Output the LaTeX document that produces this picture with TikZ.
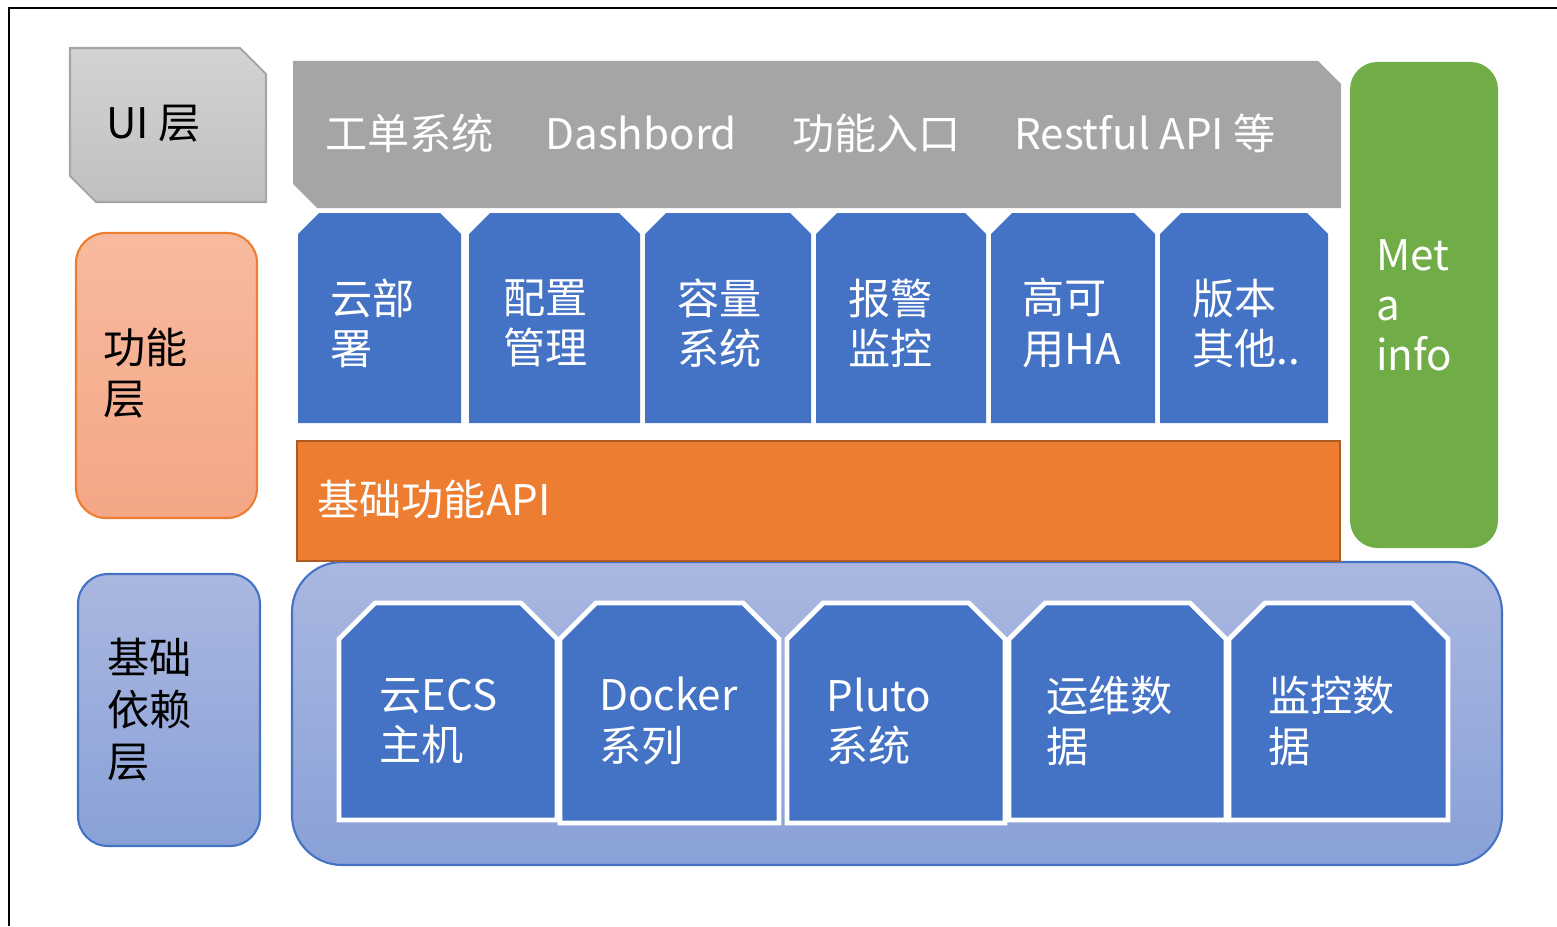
\documentclass[tikz,border=0pt]{standalone}
\usepackage{fontspec}
\setmainfont{Noto Sans CJK SC}
\usepackage{xcolor}
\usepackage{tikz}
\usetikzlibrary{positioning}
\definecolor{uigray}{RGB}{165,165,165}
\definecolor{uiedge}{RGB}{166,166,166}
\definecolor{uitop}{RGB}{211,211,211}
\definecolor{uibot}{RGB}{192,192,192}
\definecolor{funcblue}{RGB}{68,114,196}
\definecolor{apiorange}{RGB}{237,125,49}
\definecolor{apiedge}{RGB}{174,90,33}
\definecolor{metagreen}{RGB}{112,173,71}
\definecolor{peachtop}{RGB}{248,186,158}
\definecolor{peachbot}{RGB}{244,166,134}
\definecolor{basetop}{RGB}{170,183,224}
\definecolor{basebot}{RGB}{137,161,215}
\tikzset{
    layertxt/.style = {anchor=west, align=left, inner sep=0pt, text=black, font=\fontsize{24}{29}\selectfont},
    boxtxt/.style = {anchor=west, align=left, inner sep=0pt, text=white, font=\fontsize{24}{28.5}\selectfont},
    bartxt/.style = {anchor=base west, inner sep=0pt, text=white, font=\fontsize{24}{28.5}\selectfont},
}

\begin{document}
\begin{tikzpicture}[
	x=0.02cm, y=-0.02cm,
	line join=miter
]
\tikzset{
    uibox/.style = {draw=uiedge, line width=1.2pt, top color=uitop, bottom color=uibot},
    topbar/.style = {fill=uigray},
    funcbox/.style = {fill=funcblue},
    apibar/.style = {fill=apiorange, draw=apiedge, line width=1.2pt},
    metabox/.style = {fill=metagreen, rounded corners=0.55cm},
    funclayer/.style = {draw=apiorange, line width=1.2pt, top color=peachtop, bottom color=peachbot, rounded corners=0.6cm},
    baselayer/.style = {draw=funcblue, line width=1.2pt, top color=basetop, bottom color=basebot, rounded corners=0.6cm},
    container/.style = {draw=funcblue, line width=1.2pt, top color=basetop, bottom color=basebot, rounded corners=1cm},
    depbox/.style = {fill=funcblue, draw=white, line width=2.8pt},
}
\useasboundingbox (0,0) rectangle (1557,926);
\draw[line width=1.2pt] (9,926) -- (9,8) -- (1557,8);
%
% left column
\draw[uibox] (70,48) -- (240,48) -- (266,74) -- (266,202) -- (96,202) -- (70,176) -- cycle;
\node[layertxt] at (106,124) (ui) {UI 层};
\draw[funclayer] (76,233) rectangle (257,518);
\node[layertxt] at (103,373) (func) {功能\\层};
\draw[baselayer] (78,574) rectangle (260,846);
\node[layertxt, font=\fontsize{24}{29.6}\selectfont] at (107,710) (base) {基础\\依赖\\层};
%
% ui bar
\fill[topbar] (293,61) -- (1318,61) -- (1341,84) -- (1341,208) -- (317,208) -- (293,184) -- cycle;
\node[bartxt] at (325,149) (t1) {工单系统};
\node[bartxt] at (545,149) (t2) {Dashbord};
\node[bartxt] at (792,149) (t3) {功能入口};
\node[bartxt] at (1014,149) (t4) {Restful API 等};
%
% function boxes
\fill[funcbox] (298,423) -- (298,234) -- (319,213) -- (440,213) -- (461,234) -- (461,423) -- cycle;
\fill[funcbox] (469,423) -- (469,234) -- (490,213) -- (619,213) -- (640,234) -- (640,423) -- cycle;
\fill[funcbox] (645,423) -- (645,234) -- (666,213) -- (790,213) -- (811,234) -- (811,423) -- cycle;
\fill[funcbox] (816,423) -- (816,234) -- (837,213) -- (965,213) -- (986,234) -- (986,423) -- cycle;
\fill[funcbox] (991,423) -- (991,234) -- (1012,213) -- (1134,213) -- (1155,234) -- (1155,423) -- cycle;
\fill[funcbox] (1160,423) -- (1160,234) -- (1181,213) -- (1307,213) -- (1328,234) -- (1328,423) -- cycle;
\node[boxtxt] at (330,323) (f1) {云部\\署};
\node[boxtxt] at (503,323) (f2) {配置\\管理};
\node[boxtxt] at (677,323) (f3) {容量\\系统};
\node[boxtxt] at (848,323) (f4) {报警\\监控};
\node[boxtxt] at (1022,323) (f5) {高可\\用HA};
\node[boxtxt] at (1192,323) (f6) {版本\\其他..};
%
% meta info
\fill[metabox] (1350,62) rectangle (1498,548);
\node[boxtxt] at (1376,305) (meta) {Met\\a\\info};
%
% base dependencies
\draw[container] (292,562) rectangle (1502,865);
\draw[apibar] (297,441) rectangle (1340,561);
\node[boxtxt] at (317,499) (api) {基础功能API};
\draw[depbox] (339,820) -- (339,639) -- (375,603) -- (521,603) -- (557,639) -- (557,820) -- cycle;
\draw[depbox] (560,823) -- (560,639) -- (596,603) -- (743,603) -- (779,639) -- (779,823) -- cycle;
\draw[depbox] (787,823) -- (787,639) -- (823,603) -- (969,603) -- (1005,639) -- (1005,823) -- cycle;
\draw[depbox] (1009,820) -- (1009,639) -- (1045,603) -- (1190,603) -- (1226,639) -- (1226,820) -- cycle;
\draw[depbox] (1229,820) -- (1229,639) -- (1265,603) -- (1412,603) -- (1448,639) -- (1448,820) -- cycle;
\node[boxtxt] at (379,721) (d1) {云ECS\\主机};
\node[boxtxt] at (599,721) (d2) {Docker\\系列};
\node[boxtxt] at (826,721) (d3) {Pluto\\系统};
\node[boxtxt] at (1046,721) (d4) {运维数\\据};
\node[boxtxt] at (1268,721) (d5) {监控数\\据};
\end{tikzpicture}
\end{document}
